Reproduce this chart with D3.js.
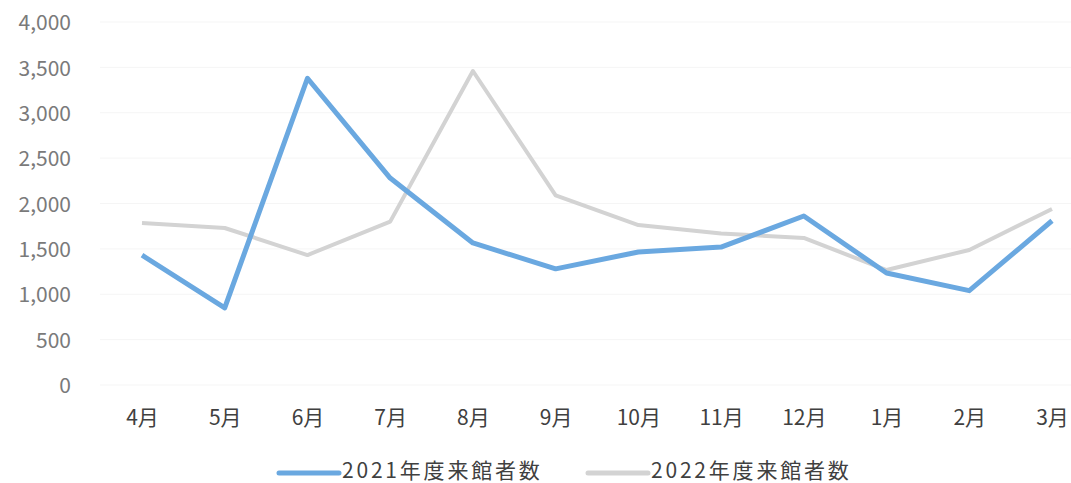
<!DOCTYPE html>
<html>
<head>
<meta charset="utf-8">
<script src="https://cdn.jsdelivr.net/npm/d3@7"></script>
<style>
  body { margin: 0; background: #fff; }
  svg text { font-family: "Noto Sans CJK JP", "Noto Sans", sans-serif; }
</style>
</head>
<body>
<div id="chart"></div>
<script>
const months = ['4月', '5月', '6月', '7月', '8月', '9月', '10月', '11月', '12月', '1月', '2月', '3月'];
const visitors2021 = [1430, 850, 3380, 2280, 1565, 1280, 1466, 1520, 1862, 1234, 1040, 1810];
const visitors2022 = [1785, 1730, 1432, 1800, 3460, 2090, 1763, 1670, 1620, 1267, 1488, 1940];
const yTicks = [0, 500, 1000, 1500, 2000, 2500, 3000, 3500, 4000];
const seriesNames = ['2021年度来館者数', '2022年度来館者数'];
const seriesColors = ['#6aa8e0', '#d3d3d3'];

const width = 1071, height = 483;
const svg = d3.select('#chart')
  .append('svg')
  .attr('width', width)
  .attr('height', height);

const x = d3.scalePoint(months, [142, 1052]);
const y = d3.scaleLinear([0, 4000], [385, 22]);

// faint gridlines
svg.append('g')
  .selectAll('line')
  .data(yTicks)
  .join('line')
  .attr('x1', 100)
  .attr('x2', width)
  .attr('y1', d => y(d))
  .attr('y2', d => y(d))
  .attr('stroke', '#f5f5f5')
  .attr('stroke-width', 1);

// y axis
const yAxis = d3.axisLeft(y)
  .tickValues(yTicks)
  .tickSize(0)
  .tickPadding(0)
  .tickFormat(d3.format(','));
svg.append('g')
  .attr('transform', 'translate(71,1)')
  .call(yAxis)
  .call(g => g.select('.domain').remove())
  .selectAll('text')
  .attr('font-size', 21)
  .attr('fill', '#7a7a7a');

// x axis
const xAxis = d3.axisBottom(x)
  .tickSize(0)
  .tickPadding(0);
svg.append('g')
  .attr('transform', 'translate(0,410)')
  .call(xAxis)
  .call(g => g.select('.domain').remove())
  .selectAll('text')
  .attr('font-size', 21)
  .attr('fill', '#404040');

const line = d3.line()
  .x((d, i) => x(months[i]))
  .y(d => y(d));

svg.append('path')
  .datum(visitors2022)
  .attr('fill', 'none')
  .attr('stroke', seriesColors[1])
  .attr('stroke-width', 4)
  .attr('stroke-linejoin', 'round')
  .attr('d', line);

svg.append('path')
  .datum(visitors2021)
  .attr('fill', 'none')
  .attr('stroke', seriesColors[0])
  .attr('stroke-width', 5)
  .attr('stroke-linejoin', 'round')
  .attr('d', line);

// legend
const legend = svg.append('g')
  .selectAll('g')
  .data(seriesNames)
  .join('g')
  .attr('transform', (d, i) => `translate(${279 + i * 309}, 470)`);
legend.append('line')
  .attr('x1', 0)
  .attr('x2', 60)
  .attr('y1', 3)
  .attr('y2', 3)
  .attr('stroke', (d, i) => seriesColors[i])
  .attr('stroke-width', 5)
  .attr('stroke-linecap', 'round');
legend.append('text')
  .attr('x', 63)
  .attr('dy', '0.36em')
  .attr('font-size', 21)
  .attr('letter-spacing', 2.8)
  .attr('fill', '#404040')
  .text(d => d);
</script>
</body>
</html>
